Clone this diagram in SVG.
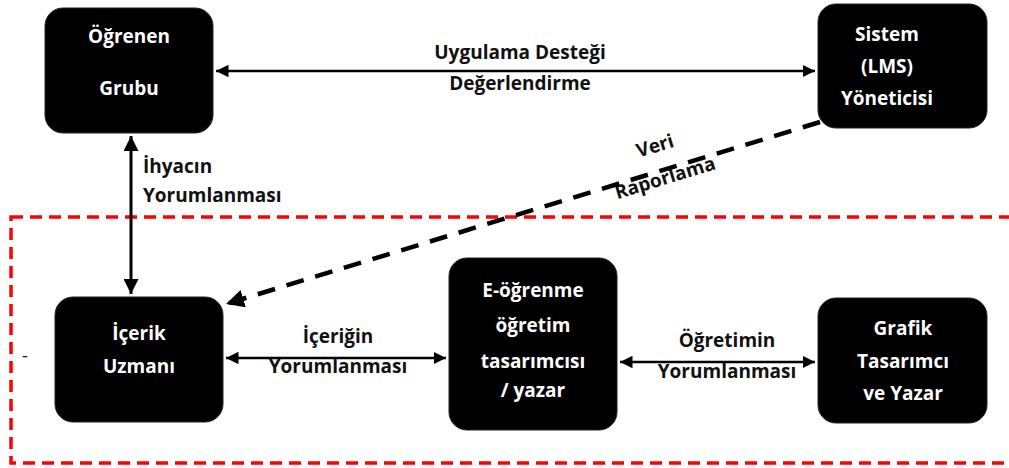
<svg xmlns="http://www.w3.org/2000/svg" width="1009" height="468" viewBox="0 0 1009 468">
<defs>
<style>
.box{fill:#000;stroke:#222;stroke-width:1}
.bt{font-family:"Open Sans",Lato,"Liberation Sans",sans-serif;font-weight:bold;font-size:19px;fill:#fff;text-anchor:middle}
.lt{font-family:"Open Sans",Lato,"Liberation Sans",sans-serif;font-weight:bold;font-size:19px;fill:#111}
.ln{stroke:#000;fill:none}
</style>
<marker id="ah" viewBox="0 0 10 10" refX="10" refY="5" markerWidth="5" markerHeight="5" orient="auto-start-reverse" markerUnits="strokeWidth">
<path d="M0,0 L10,5 L0,10 Z" fill="#000"/>
</marker>
<marker id="ah2" viewBox="0 0 10 10" refX="10" refY="5" markerWidth="4" markerHeight="4" orient="auto" markerUnits="strokeWidth">
<path d="M0,0 L10,5 L0,10 Z" fill="#000"/>
</marker>
</defs>
<rect width="1009" height="468" fill="#fff"/>

<rect id="boundary" x="11" y="217" width="1010" height="246" fill="none" stroke="#f00" stroke-width="3.5" stroke-dasharray="12 7"/>
<text x="22" y="362" font-family="'Open Sans','Liberation Sans',sans-serif" font-size="18" fill="#111">-</text>

<g id="connectors">
<line class="ln" x1="216" y1="71" x2="815" y2="71" stroke-width="2.5" marker-start="url(#ah)" marker-end="url(#ah)"/>
<line class="ln" x1="131" y1="136" x2="131" y2="294" stroke-width="3" marker-start="url(#ah)" marker-end="url(#ah)"/>
<line class="ln" x1="226" y1="358" x2="446" y2="358" stroke-width="2.5" marker-start="url(#ah)" marker-end="url(#ah)"/>
<line class="ln" x1="620" y1="362" x2="815" y2="362" stroke-width="2.5" marker-start="url(#ah)" marker-end="url(#ah)"/>
<g id="veri-label" class="lt">
<text transform="translate(657,152) rotate(-17)" text-anchor="middle">Veri</text>
<text transform="translate(667,184) rotate(-17)" text-anchor="middle">Raporlama</text>
</g>
<line class="ln" x1="820" y1="122" x2="226" y2="304" stroke-width="4.5" stroke-dasharray="18 12" marker-end="url(#ah2)"/>
</g>

<g id="labels" class="lt">
<text x="520" y="59" text-anchor="middle">Uygulama Desteği</text>
<text x="520" y="90" text-anchor="middle">Değerlendirme</text>
<text x="143" y="173">İhyacın</text>
<text x="143" y="202">Yorumlanması</text>
<text x="338" y="343" text-anchor="middle">İçeriğin</text>
<text x="338" y="373" text-anchor="middle">Yorumlanması</text>
<text x="727" y="347" text-anchor="middle">Öğretimin</text>
<text x="727" y="378" text-anchor="middle">Yorumlanması</text>
</g>

<g id="ogrenen">
<rect class="box" x="45" y="8" width="168" height="125" rx="18"/>
<text class="bt" x="129" y="43">Öğrenen</text>
<text class="bt" x="129" y="95">Grubu</text>
</g>
<g id="sistem">
<rect class="box" x="818" y="4" width="169" height="124" rx="18"/>
<text class="bt" x="887" y="41">Sistem</text>
<text class="bt" x="887" y="73">(LMS)</text>
<text class="bt" x="887" y="105">Yöneticisi</text>
</g>
<g id="icerik">
<rect class="box" x="55" y="297" width="168" height="125" rx="18"/>
<text class="bt" x="139" y="340">İçerik</text>
<text class="bt" x="139" y="373">Uzmanı</text>
</g>
<g id="eogrenme">
<rect class="box" x="449" y="258" width="168" height="172" rx="18"/>
<text class="bt" x="533" y="297">E-öğrenme</text>
<text class="bt" x="533" y="332">öğretim</text>
<text class="bt" x="533" y="368">tasarımcısı</text>
<text class="bt" x="533" y="397">/ yazar</text>
</g>
<g id="grafik">
<rect class="box" x="818" y="298" width="169" height="125" rx="18"/>
<text class="bt" x="903" y="335">Grafik</text>
<text class="bt" x="903" y="368">Tasarımcı</text>
<text class="bt" x="903" y="400">ve Yazar</text>
</g>
</svg>
